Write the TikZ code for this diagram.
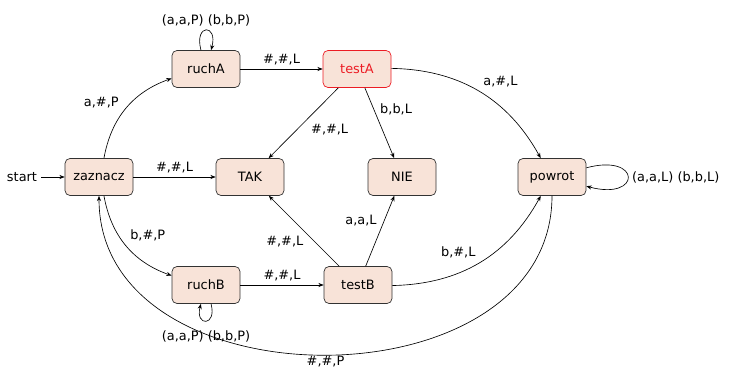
\documentclass[tikz,border=0pt]{standalone}
\usepackage{fontspec}
\setmainfont{DejaVu Sans}
\usepackage{tikz}
\usetikzlibrary{arrows.meta}
\definecolor{stanfill}{RGB}{248,227,216}
\definecolor{stanred}{RGB}{236,28,36}
\definecolor{darkgray}{RGB}{50,50,50}

\begin{document}
\begin{tikzpicture}[x=0.03cm, y=0.03cm, font=\fontsize{11}{13}\selectfont,
    stanbox/.style={draw=darkgray, fill=stanfill, rounded corners=0.15cm,
        minimum width=2.04cm, minimum height=1.11cm, line width=0.6pt},
    arr/.style={-{Stealth[length=4.5pt, width=3.5pt]}, line width=0.55pt},
    every loop/.style={}]
			
			\useasboundingbox (0,0) rectangle (729,-371);
			
			% STATES
			\node (start) at (22,-177) {start};
			\node[stanbox] (zaznacz) at (99,-177) {zaznacz};
			\node[stanbox] (ruchA) at (206,-69) {ruchA};
			\node[stanbox, draw=stanred, text=stanred] (testA) at (357,-69) {testA};
			\node[stanbox] (TAK) at (250,-177) {TAK};
			\node[stanbox] (NIE) at (402,-177) {NIE};
			\node[stanbox] (powrot) at (552,-177) {powrot};
			\node[stanbox] (ruchB) at (206,-285) {ruchB};
			\node[stanbox] (testB) at (358,-285) {testB};
			
			% START
			\draw[arr] (start) -- (zaznacz);
			
			% FROM zaznacz
			\draw[arr] (zaznacz) to[bend left] node[pos=0.45, above left] {a,\#,P} (ruchA);
			\draw[arr] (zaznacz) to[bend right] node[pos=0.5, above right] {b,\#,P} (ruchB);
			\draw[arr] (zaznacz) -- node[above] {\#,\#,L} (TAK);
			
			% RUCH A
			\draw[arr] (ruchA) to[loop above, looseness=7] node[above] {(a,a,P) (b,b,P)} (ruchA);
			\draw[arr] (ruchA) -- node[above] {\#,\#,L} (testA);
			
			% TEST A
			\draw[arr] (testA) -- node[pos=0.45, below right] {\#,\#,L} (TAK);
			\draw[arr] (testA) -- node[pos=0.3, right, xshift=2pt] {b,b,L} (NIE);
			\draw[arr] (testA) to[bend left] node[pos=0.5, above right] {a,\#,L} (powrot);
			
			% RUCH B
			\draw[arr] (ruchB) to[loop below, looseness=6] node[below, yshift=-5pt] {(a,a,P) (b,b,P)} (ruchB);
			\draw[arr] (ruchB) -- node[above] {\#,\#,L} (testB);
			
			% TEST B
			\draw[arr] (testB) -- node[pos=0.35, left, xshift=-6pt] {\#,\#,L} (TAK);
			\draw[arr] (testB) -- node[pos=0.65, left, xshift=-3pt] {a,a,L} (NIE);
			\draw[arr] (testB) to[bend right] node[pos=0.5, above left] {b,\#,L} (powrot);
			
			% POWROT
			\draw[arr] (powrot) to[loop right] node[right] {(a,a,L) (b,b,L)} (powrot);
			\draw[arr] (powrot) to[out=-90, in=-90, looseness=1.2] node[midway, below, inner sep=0pt, yshift=-1pt] {\#,\#,P} (zaznacz);
			
		\end{tikzpicture}
\end{document}
